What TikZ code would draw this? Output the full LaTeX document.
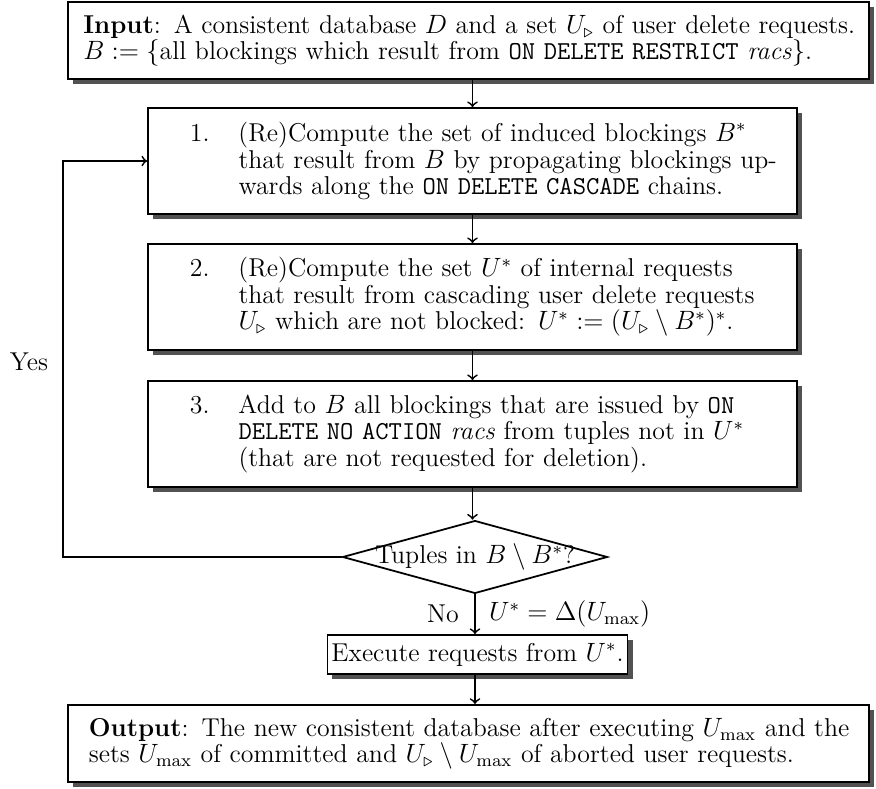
\documentclass[tikz,border=0pt]{standalone}
\usepackage{amsmath,amssymb}
\usepackage{tikz}
\usetikzlibrary{shapes.geometric,shadows}
\tikzset{shade box/.style={drop shadow={shadow xshift=2.3pt,shadow yshift=-2.3pt,fill=black!68,opacity=1}},
	stepbox/.style={rectangle,draw,fill=white,shade box,text width=294pt,inner xsep=0pt,minimum height=48pt},
	iobox/.style={rectangle,draw,fill=white,shade box,text width=363pt,inner xsep=0pt,minimum height=35pt,align=left},
	execbox/.style={rectangle,draw,fill=white,shade box,minimum width=136pt,minimum height=17.7pt,inner sep=1pt},
	decision/.style={diamond,draw,aspect=3.6,inner sep=-2pt,minimum width=120pt,minimum height=33pt},
	flow/.style={->}}
\newcommand{\stepitem}[2]{\hspace*{19pt}\makebox[22pt][l]{#1}\parbox[t]{245pt}{#2}}

\begin{document}
\begin{tikzpicture}
	[thick,x=0.453pt,y=-0.453pt,every node/.style={font=\fontsize{11.7}{12}\selectfont}]
	\useasboundingbox (0,0) rectangle (876,789);
	\node [iobox] (input) at (468.5,40.5)
		{\hspace*{7pt}\textbf{Input}: A consistent database $D$ and a set $U_{\triangleright}$ of user delete requests.\\
		\hspace*{7pt}$B:=\{$all blockings which result from \texttt{ON DELETE RESTRICT} \textit{racs}$\}$.};
	\node [stepbox] (step1) at (472.5,161)
		{\stepitem{1.}{(Re)Compute the set of induced blockings $B^*$ that result from $B$ by propagating blockings up-\linebreak wards along the \texttt{ON DELETE CASCADE} chains.}};
	\node [stepbox] (step2) at (472.5,297)
		{\stepitem{2.}{(Re)Compute the set $U^*$ of internal requests that result from cascading user delete requests $U_{\triangleright}$ which are not blocked: $U^*:=(U_{\triangleright}\setminus B^*)^*$.}};
	\node [stepbox] (step3) at (472.5,434)
		{\stepitem{3.}{Add to $B$ all blockings that are issued by \texttt{ON DELETE NO ACTION} \textit{racs} from tuples not in $U^*$ (that are not requested for deletion).}};
	\node [decision] (test) at (475,557) {Tuples in $B\setminus B^*$?};
	\node [execbox] (exec) at (477.5,654.5) {Execute requests from $U^*$.};
	\node [iobox] (output) at (468.5,743.5)
		{\hspace*{9.5pt}\textbf{Output}: The new consistent database after executing $U_{\max}$ and the\\
		\hspace*{9.5pt}sets $U_{\max}$ of committed and $U_{\triangleright}\setminus U_{\max}$ of aborted user requests.};
	\coordinate (loop) at (63,557);
	\node (yes) at (29,362) {Yes};

	\draw [flow] (input.south -| step1.north) -- (step1.north);
	\draw [flow] (step1.south) -- (step2.north);
	\draw [flow] (step2.south) -- (step3.north);
	\draw [flow] (step3.south) -- (test.north -| step3.south);
	\draw [flow] (test.west) -- (loop) |- (step1.west);
	\draw [flow] (test.south) -- (exec.north -| test.south)
		node [midway,left,inner xsep=7pt] {No} node [midway,right,inner xsep=6pt] {$U^*=\Delta(U_{\max})$};
	\draw [flow] (exec.south -| test.south) -- (output.north -| test.south);
\end{tikzpicture}
\end{document}
